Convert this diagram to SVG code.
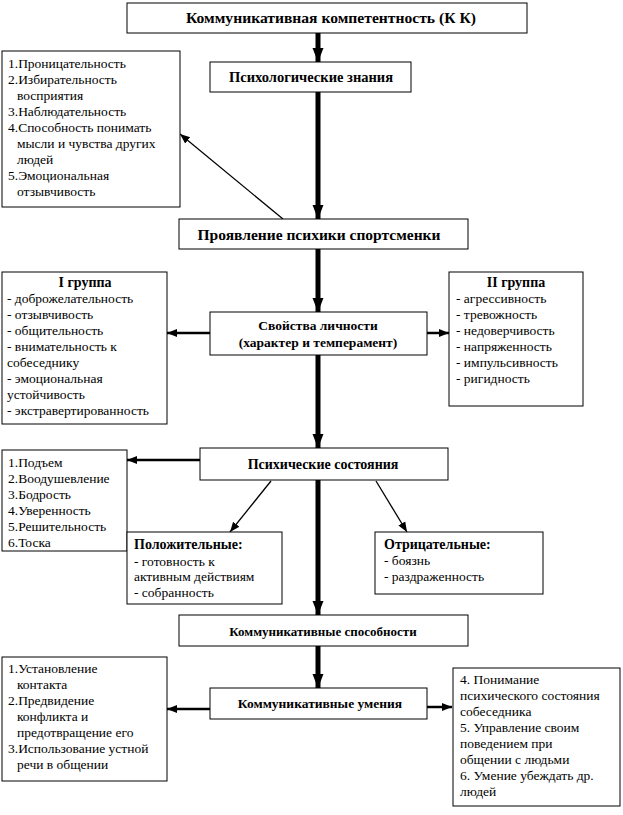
<svg xmlns="http://www.w3.org/2000/svg" width="623" height="815" viewBox="0 0 623 815">
<style>
.box{fill:#fff;stroke:#000;stroke-width:1}
text{font-family:'Liberation Serif','DejaVu Serif',serif}
.t{font-size:13.5px;fill:#000}
.h{font-size:14px;font-weight:bold}
.b{font-weight:bold;fill:#000;text-anchor:middle}
.thick{stroke:#000;stroke-width:5;fill:none}
.mid{stroke:#000;stroke-width:2.5;fill:none}
.thin{stroke:#000;stroke-width:1.3;fill:none}
</style>
<defs>
<marker id="ah" markerUnits="userSpaceOnUse" markerWidth="14" markerHeight="14" viewBox="0 0 14 14" refX="14" refY="7" orient="auto"><path d="M0,1.5 L14,7 L0,12.5 z" fill="#000"/></marker>
<marker id="as" markerUnits="userSpaceOnUse" markerWidth="10" markerHeight="10" viewBox="0 0 10 10" refX="10" refY="5" orient="auto"><path d="M0,1 L10,5 L0,9 z" fill="#000"/></marker>
</defs>
<g id="connectors">
<line class="thick" x1="318" y1="33" x2="318" y2="62" marker-end="url(#ah)"/>
<line class="thick" x1="318" y1="92" x2="318" y2="219" marker-end="url(#ah)"/>
<line class="thick" x1="318" y1="249" x2="318" y2="312" marker-end="url(#ah)"/>
<line class="thick" x1="318" y1="355" x2="318" y2="448" marker-end="url(#ah)"/>
<line class="thick" x1="318" y1="480" x2="318" y2="615" marker-end="url(#ah)"/>
<line class="thick" x1="318" y1="646" x2="318" y2="688" marker-end="url(#ah)"/>
<line class="thin" x1="283" y1="219" x2="180" y2="134" marker-end="url(#as)"/>
<line class="mid" x1="210" y1="333" x2="167" y2="333" marker-end="url(#as)"/>
<line class="mid" x1="427" y1="333" x2="449" y2="333" marker-end="url(#as)"/>
<line class="mid" x1="200" y1="460" x2="127" y2="460" marker-end="url(#as)"/>
<line class="thin" x1="271" y1="481" x2="230" y2="532" marker-end="url(#as)"/>
<line class="thin" x1="376" y1="481" x2="407" y2="532" marker-end="url(#as)"/>
<line class="mid" x1="210" y1="709" x2="167" y2="709" marker-end="url(#as)"/>
<line class="mid" x1="427" y1="707" x2="452" y2="707" marker-end="url(#as)"/>
</g>
<g id="kk"><rect class="box" x="127" y="3" width="400" height="30"/><text class="b" x="331" y="23" font-size="15.6">Коммуникативная компетентность (К К)</text></g>
<g id="psych-knowledge"><rect class="box" x="210" y="62" width="201" height="30"/><text class="b" x="311" y="82" font-size="14.5">Психологические знания</text></g>
<g id="list1"><rect class="box" x="2" y="51" width="178" height="156"/>
<text class="t" x="8" y="68">1.Проницательность</text>
<text class="t" x="8" y="84">2.Избирательность</text>
<text class="t" x="17" y="100">восприятия</text>
<text class="t" x="8" y="116">3.Наблюдательность</text>
<text class="t" x="8" y="132">4.Способность понимать</text>
<text class="t" x="17" y="148">мысли и чувства других</text>
<text class="t" x="17" y="164">людей</text>
<text class="t" x="8" y="180">5.Эмоциональная</text>
<text class="t" x="17" y="196">отзывчивость</text></g>
<g id="manifest"><rect class="box" x="179" y="219" width="289" height="30"/><text class="b" x="319" y="240" font-size="15.5">Проявление психики спортсменки</text></g>
<g id="props"><rect class="box" x="210" y="312" width="217" height="43"/><text class="b" x="318" y="330" font-size="13.5">Свойства личности</text><text class="b" x="318" y="347" font-size="13.5">(характер и темперамент)</text></g>
<g id="group1"><rect class="box" x="2" y="272" width="165" height="152"/>
<text class="b" x="85" y="287" font-size="14">I группа</text>
<text class="t" x="7" y="303">- доброжелательность</text>
<text class="t" x="7" y="319">- отзывчивость</text>
<text class="t" x="7" y="335">- общительность</text>
<text class="t" x="7" y="351">- внимательность к</text>
<text class="t" x="7" y="367">собеседнику</text>
<text class="t" x="7" y="383">- эмоциональная</text>
<text class="t" x="7" y="399">устойчивость</text>
<text class="t" x="7" y="415">- экстравертированность</text></g>
<g id="group2"><rect class="box" x="449" y="272" width="134" height="134"/>
<text class="b" x="516" y="287" font-size="14">II группа</text>
<text class="t" x="456" y="303">- агрессивность</text>
<text class="t" x="456" y="319">- тревожность</text>
<text class="t" x="456" y="335">- недоверчивость</text>
<text class="t" x="456" y="351">- напряженность</text>
<text class="t" x="456" y="367">- импульсивность</text>
<text class="t" x="456" y="383">- ригидность</text></g>
<g id="states"><rect class="box" x="200" y="448" width="248" height="32"/><text class="b" x="323" y="469" font-size="14">Психические состояния</text></g>
<g id="list-states"><rect class="box" x="2" y="450" width="125" height="101"/>
<text class="t" x="8" y="467">1.Подъем</text>
<text class="t" x="8" y="483">2.Воодушевление</text>
<text class="t" x="8" y="499">3.Бодрость</text>
<text class="t" x="8" y="515">4.Уверенность</text>
<text class="t" x="8" y="531">5.Решительность</text>
<text class="t" x="8" y="547">6.Тоска</text></g>
<g id="positive"><rect class="box" x="127" y="532" width="155" height="72"/>
<text class="t h" x="134" y="549">Положительные:</text>
<text class="t" x="134" y="566">- готовность к</text>
<text class="t" x="134" y="581">активным действиям</text>
<text class="t" x="134" y="597">- собранность</text></g>
<g id="negative"><rect class="box" x="375" y="532" width="168" height="62"/>
<text class="t h" x="384" y="549">Отрицательные:</text>
<text class="t" x="384" y="565">- боязнь</text>
<text class="t" x="384" y="581">- раздраженность</text></g>
<g id="abilities"><rect class="box" x="179" y="615" width="289" height="31"/><text class="b" x="323" y="636" font-size="13">Коммуникативные способности</text></g>
<g id="skills"><rect class="box" x="210" y="688" width="217" height="31"/><text class="b" x="320" y="708" font-size="13.5">Коммуникативные умения</text></g>
<g id="skills-left"><rect class="box" x="2" y="657" width="165" height="124"/>
<text class="t" x="8" y="673">1.Установление</text>
<text class="t" x="17" y="689">контакта</text>
<text class="t" x="8" y="705">2.Предвидение</text>
<text class="t" x="17" y="721">конфликта и</text>
<text class="t" x="17" y="737">предотвращение его</text>
<text class="t" x="8" y="753">3.Использование устной</text>
<text class="t" x="17" y="769">речи в общении</text></g>
<g id="skills-right"><rect class="box" x="453" y="668" width="167" height="138"/>
<text class="t" x="460" y="684">4. Понимание</text>
<text class="t" x="460" y="700">психического состояния</text>
<text class="t" x="460" y="716">собеседника</text>
<text class="t" x="460" y="732">5. Управление своим</text>
<text class="t" x="460" y="748">поведением при</text>
<text class="t" x="460" y="764">общении с людьми</text>
<text class="t" x="460" y="780">6. Умение убеждать др.</text>
<text class="t" x="460" y="796">людей</text></g>
</svg>
